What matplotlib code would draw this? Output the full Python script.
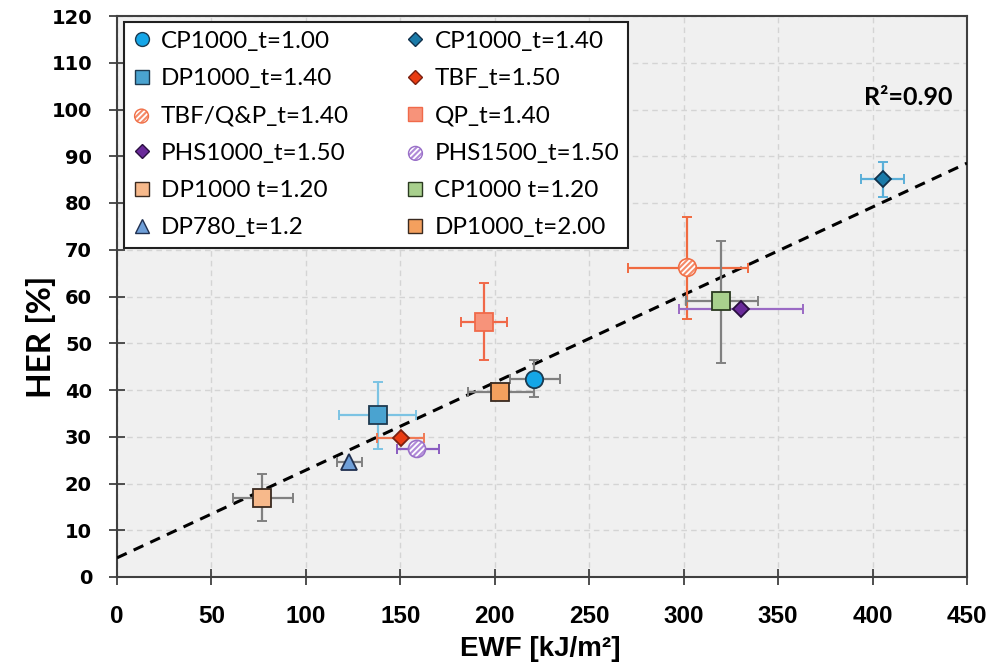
import matplotlib
matplotlib.use("Agg")
import matplotlib.pyplot as plt
from matplotlib.lines import Line2D
import numpy as np

plt.rcParams['hatch.linewidth'] = 1.3

# ---------------- data ----------------
names = ["CP1000_t=1.00", "CP1000_t=1.40", "DP1000_t=1.40", "TBF_t=1.50",
         "TBF/Q&P_t=1.40", "QP_t=1.40", "PHS1000_t=1.50", "PHS1500_t=1.50",
         "DP1000 t=1.20", "CP1000 t=1.20", "DP780_t=1.2", "DP1000_t=2.00"]
ewf = [221.0, 405.5, 138.2, 150.3, 302.0, 194.3, 330.1, 158.8, 76.8, 320.0, 122.8, 202.8]
her = [42.4, 85.1, 34.7, 29.7, 66.2, 54.5, 57.3, 27.4, 17.0, 59.0, 24.6, 39.6]
ewf_low = [208.0, 394.0, 117.5, 137.6, 270.3, 182.1, 297.5, 148.2, 61.2, 301.0, 116.5, 185.8]
ewf_high = [234.5, 416.6, 158.3, 162.5, 334.2, 206.5, 363.3, 170.5, 93.0, 339.5, 129.7, 220.8]
her_low = [38.6, 81.3, 27.4, 29.7, 55.1, 46.4, 57.3, 27.4, 12.0, 45.8, 24.6, 39.6]
her_high = [46.4, 88.8, 41.7, 29.7, 77.1, 62.9, 57.3, 27.4, 22.0, 71.9, 24.6, 39.6]

fit_slope = 0.1876
fit_intercept = 4.1
r2_text = "R²=0.90"

x_ticks = [0, 50, 100, 150, 200, 250, 300, 350, 400, 450]
y_ticks = [0, 10, 20, 30, 40, 50, 60, 70, 80, 90, 100, 110, 120]

# ---------------- styles ----------------
markers = ['o', 'D', 's', 'D', 'o', 's', 'D', 'o', 's', 's', '^', 's']
faces = ['#14a6e8', '#1a7aa8', '#4aa3d0', '#ea3c12', '#f58a68', '#f7937a',
         '#6a2a9a', '#b08ad8', '#f7b98b', '#a8d08d', '#6f9fd8', '#f4a05e']
edges = ['#1b3a50', '#10304a', '#1e3a50', '#7a2010', '#f07048', '#f06a4a',
         '#2a1040', '#9a70c8', '#3a2a20', '#2a3a20', '#203050', '#3a2a20']
errc = ['#808080', '#5aafd8', '#7cc3e3', '#f07a55', '#f06a40', '#f06848',
        '#9a6ac4', '#8a5cc0', '#808080', '#808080', '#808080', '#808080']
msize = [12.5, 7.9, 12.5, 8.0, 12.7, 12.5, 8.2, 12.3, 12.5, 12.5, 12.0, 12.5]
hatched = [False, False, False, False, True, False, False, True, False, False, False, False]

fig = plt.figure(figsize=(9.92, 6.65), dpi=100)
ax = fig.add_axes([117/992, 1-577/665, 850/992, 561/665])
ax.set_facecolor('#f0f0f0')

ax.set_xlim(0, 450)
ax.set_ylim(0, 120)
ax.set_xticks(x_ticks)
ax.set_yticks(y_ticks)
ax.grid(True, color='#d4d4d4', linestyle=(0, (4, 3)), linewidth=1.0, zorder=0)
ax.set_axisbelow(True)

# trend line
xx = np.array([0, 450])
ax.plot(xx, fit_slope * xx + fit_intercept, color='black', linestyle=(0, (3.5, 2.5)),
        linewidth=2.2, zorder=3)

handles = {}
for i in range(len(names)):
    x, y = ewf[i], her[i]
    xerr = [[x - ewf_low[i]], [ewf_high[i] - x]]
    yerr = [[y - her_low[i]], [her_high[i] - y]]
    ax.errorbar([x], [y], xerr=xerr, yerr=yerr, fmt='none', ecolor=errc[i],
                elinewidth=1.6, capsize=3.5, capthick=1.4, zorder=4)
    if hatched[i]:
        s = msize[i] ** 2
        ax.scatter([x], [y], s=s, marker='o', facecolor=faces[i], edgecolor='white',
                   hatch='//////', linewidths=0, zorder=6)
        ax.scatter([x], [y], s=s, marker='o', facecolor='none', edgecolor=edges[i],
                   linewidths=1.2, zorder=7)
        lh1 = ax.scatter([], [], s=100, marker='o', facecolor=faces[i], edgecolor='white',
                         hatch='//////', linewidths=0)
        lh2 = ax.scatter([], [], s=100, marker='o', facecolor='none', edgecolor=edges[i],
                         linewidths=1.0)
        handles[names[i]] = (lh1, lh2)
    else:
        ax.plot([x], [y], linestyle='none', marker=markers[i], markersize=msize[i],
                markerfacecolor=faces[i], markeredgecolor=edges[i], markeredgewidth=1.3,
                zorder=6)
        lms = 10 if markers[i] != 'D' else 7.2
        handles[names[i]] = Line2D([], [], linestyle='none', marker=markers[i], markersize=lms,
                                   markerfacecolor=faces[i], markeredgecolor=edges[i],
                                   markeredgewidth=1.0)

# legend: column-major order
col1 = ["CP1000_t=1.00", "DP1000_t=1.40", "TBF/Q&P_t=1.40", "PHS1000_t=1.50", "DP1000 t=1.20", "DP780_t=1.2"]
col2 = ["CP1000_t=1.40", "TBF_t=1.50", "QP_t=1.40", "PHS1500_t=1.50", "CP1000 t=1.20", "DP1000_t=2.00"]
order = col1 + col2
leg = ax.legend([handles[n] for n in order], order, ncol=2, loc='upper left',
                bbox_to_anchor=(0.008, 0.99), borderaxespad=0, fancybox=False,
                frameon=True, edgecolor='#202020', framealpha=1,
                prop={'family': 'Lato', 'size': 17.5}, handletextpad=0.43,
                columnspacing=2.4, labelspacing=0.67, handlelength=0.7,
                borderpad=0.38)
leg.get_frame().set_linewidth(1.5)
leg.set_zorder(10)

# R^2 annotation
ax.text(442.5, 102.6, r2_text, ha='right', va='center', fontsize=18,
        fontweight='bold', family='Lato', zorder=8)

# axes styling
for sp in ax.spines.values():
    sp.set_color('#404040')
    sp.set_linewidth(1.5)
ax.tick_params(axis='both', direction='inout', length=12, width=1.3, color='#404040')
ax.tick_params(axis='x', pad=14)
ax.tick_params(axis='y', pad=12)
for lab in ax.get_yticklabels():
    lab.set_fontweight('bold')
    lab.set_fontsize(14)
    lab.set_family('DejaVu Sans')
for lab in ax.get_xticklabels():
    lab.set_fontweight('bold')
    lab.set_fontsize(17.5)
    lab.set_family('Liberation Sans')

ax.set_xlabel('EWF [kJ/m²]', fontsize=20, fontweight='bold', family='Liberation Sans')
ax.xaxis.set_label_coords(0.498, -0.105)
ax.set_ylabel('HER [%]', fontsize=24, fontweight='bold', family='Lato')
ax.yaxis.set_label_coords(-0.072, 0.428)

fig.savefig('out.png', dpi=100)
